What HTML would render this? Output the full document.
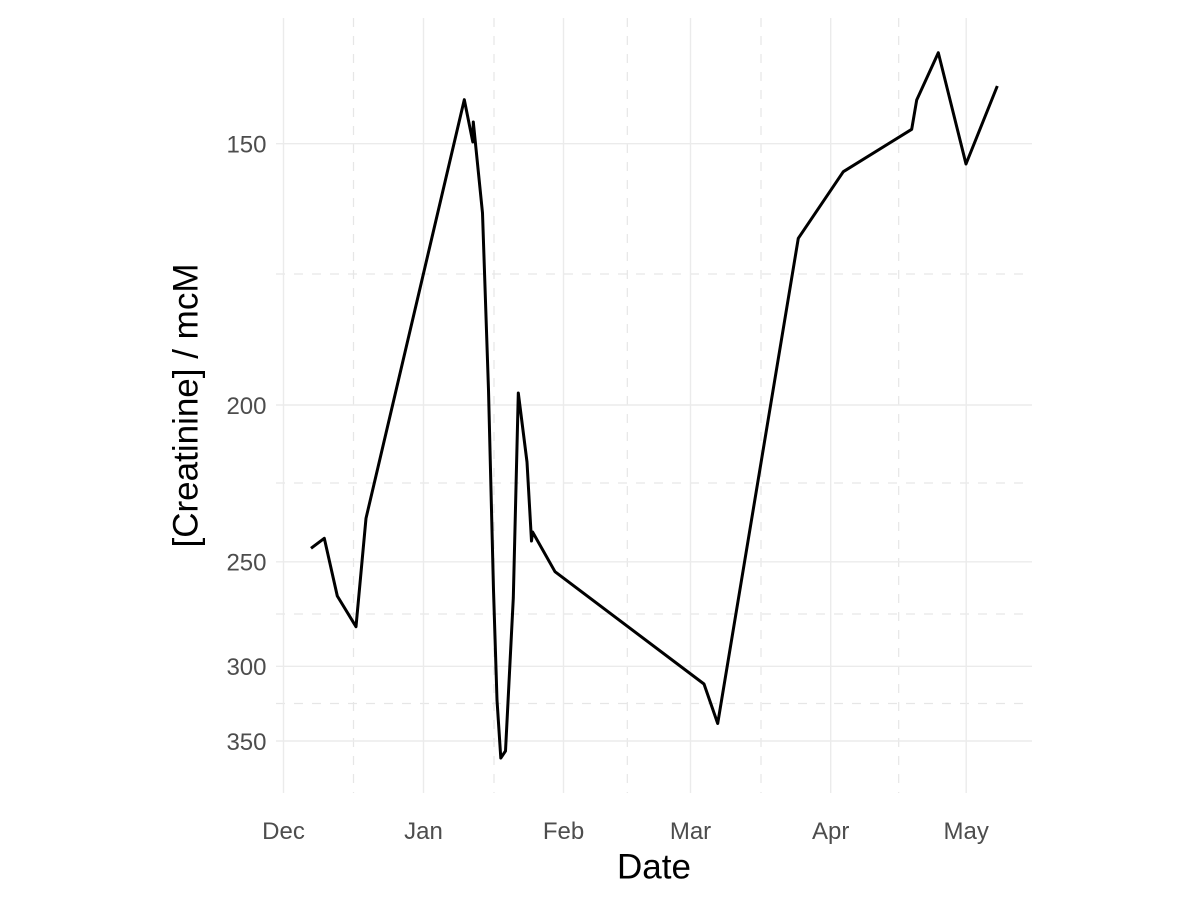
<!DOCTYPE html>
<html>
<head>
<meta charset="utf-8">
<style>
  html, body { margin: 0; padding: 0; background: #ffffff; }
  svg { display: block; }
  text { font-family: "Liberation Sans", Arial, sans-serif; }
</style>
</head>
<body>
<svg width="1200" height="900" viewBox="0 0 1200 900" xmlns="http://www.w3.org/2000/svg">
  <rect x="0" y="0" width="1200" height="900" fill="#ffffff"/>

  <!-- minor gridlines (dashed) -->
  <g stroke="#E6E6E6" stroke-width="1.2" stroke-dasharray="9 9" fill="none">
    <line x1="276" y1="274" x2="1032" y2="274"/>
    <line x1="276" y1="483" x2="1032" y2="483"/>
    <line x1="276" y1="614" x2="1032" y2="614"/>
    <line x1="276" y1="703.5" x2="1032" y2="703.5"/>
    <line x1="353.5" y1="18" x2="353.5" y2="793"/>
    <line x1="494" y1="18" x2="494" y2="793"/>
    <line x1="627.3" y1="18" x2="627.3" y2="793"/>
    <line x1="761" y1="18" x2="761" y2="793"/>
    <line x1="898.7" y1="18" x2="898.7" y2="793"/>
  </g>

  <!-- major gridlines -->
  <g stroke="#EBEBEB" stroke-width="1.4" fill="none">
    <line x1="276" y1="143.7" x2="1032" y2="143.7"/>
    <line x1="276" y1="405" x2="1032" y2="405"/>
    <line x1="276" y1="561.8" x2="1032" y2="561.8"/>
    <line x1="276" y1="666.3" x2="1032" y2="666.3"/>
    <line x1="276" y1="741" x2="1032" y2="741"/>
    <line x1="283.5" y1="18" x2="283.5" y2="793"/>
    <line x1="423.5" y1="18" x2="423.5" y2="793"/>
    <line x1="563.5" y1="18" x2="563.5" y2="793"/>
    <line x1="690.5" y1="18" x2="690.5" y2="793"/>
    <line x1="830.7" y1="18" x2="830.7" y2="793"/>
    <line x1="966.2" y1="18" x2="966.2" y2="793"/>
  </g>

  <!-- data line -->
  <polyline fill="none" stroke="#000000" stroke-width="3" stroke-linejoin="round" stroke-linecap="butt"
    points="311,548.3 324.3,538.3 337.3,596 356,626.7 366,518.3 464.3,99.7 472.8,142 473.3,122 482.5,213 488.5,390 493.5,590 497,700 500.8,758 505.5,751 513.3,598 518.3,393 527,462 531.5,541 532.6,532 555,571.7 704,684 717.7,723.5 798.3,238.3 843.3,171.7 911.7,129.3 916.7,100 938.3,52.7 966,164 997.3,86"/>

  <!-- y tick labels -->
  <g fill="#4D4D4D" font-size="24" text-anchor="end">
    <text x="266.5" y="152.5">150</text>
    <text x="266.5" y="413.8">200</text>
    <text x="266.5" y="570.6">250</text>
    <text x="266.5" y="675.1">300</text>
    <text x="266.5" y="749.8">350</text>
  </g>

  <!-- x tick labels -->
  <g fill="#4D4D4D" font-size="24" text-anchor="middle">
    <text x="283.5" y="839">Dec</text>
    <text x="423.5" y="839">Jan</text>
    <text x="563.5" y="839">Feb</text>
    <text x="690.5" y="839">Mar</text>
    <text x="830.7" y="839">Apr</text>
    <text x="966.2" y="839">May</text>
  </g>

  <!-- axis titles -->
  <text x="654" y="878.5" font-size="35" text-anchor="middle" fill="#000000">Date</text>
  <text transform="translate(197.5,405.5) rotate(-90)" x="0" y="0" font-size="35" text-anchor="middle" fill="#000000">[Creatinine] / mcM</text>
</svg>
</body>
</html>
